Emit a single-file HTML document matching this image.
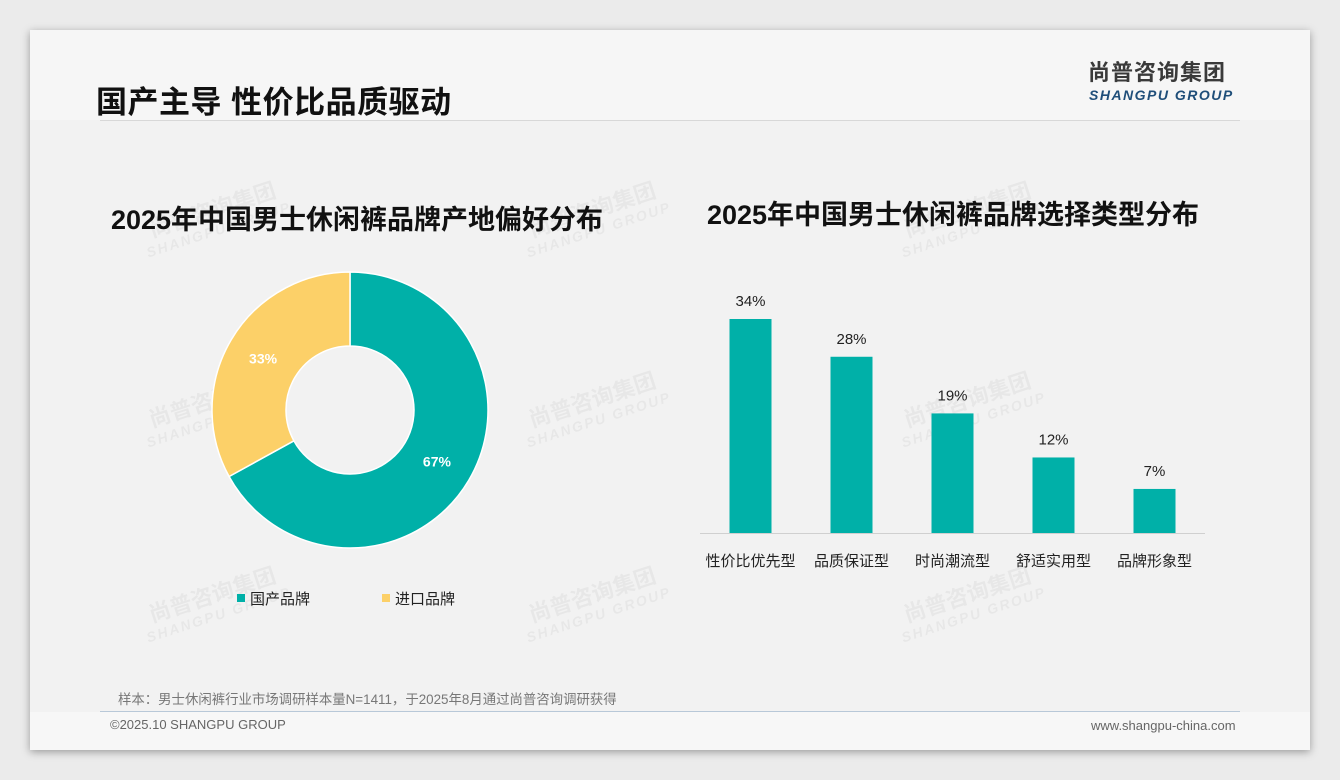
<!DOCTYPE html>
<html><head><meta charset="utf-8"><style>
body{margin:0;width:1340px;height:780px;background:#ebebeb;font-family:"Liberation Sans","Noto Sans CJK SC",sans-serif;overflow:hidden;position:relative}
.card{position:absolute;left:30px;top:30px;width:1280px;height:720px;background:#f2f2f2;box-shadow:0 2px 8px rgba(0,0,0,.35)}
.hdr{position:absolute;left:0;top:0;width:1280px;height:90px;background:#f6f6f6}
.ftr{position:absolute;left:0;top:682px;width:1280px;height:38px;background:#f7f7f7}
.t{position:absolute;white-space:nowrap}
.wm{position:absolute;color:rgba(0,0,0,.045);font-weight:bold;transform:rotate(-18deg);font-size:22px;line-height:20px;text-align:center}
.wm span{display:block;font-size:14px;font-style:italic;letter-spacing:2px}
</style></head><body>
<div class="card">
<div class="hdr"></div>
<div class="ftr"></div>
<div class="t" style="left:66px;top:47px;font-size:31px;letter-spacing:0.5px;font-weight:bold;color:#111">国产主导 性价比品质驱动</div>
<div style="position:absolute;left:70px;top:90px;width:1140px;height:1px;background:#d8d8d8"></div>
<div class="t" style="left:1058px;top:30px;font-size:22px;line-height:26px;font-weight:bold;color:#3a3a3a;letter-spacing:1px">尚普咨询集团</div>
<div class="t" style="left:1059px;top:57px;font-size:14px;font-weight:bold;font-style:italic;color:#1f4e79;letter-spacing:1.5px">SHANGPU GROUP</div>
<div class="wm" style="left:110px;top:170px">尚普咨询集团<span>SHANGPU GROUP</span></div>
<div class="wm" style="left:490px;top:170px">尚普咨询集团<span>SHANGPU GROUP</span></div>
<div class="wm" style="left:865px;top:170px">尚普咨询集团<span>SHANGPU GROUP</span></div>
<div class="wm" style="left:110px;top:360px">尚普咨询集团<span>SHANGPU GROUP</span></div>
<div class="wm" style="left:490px;top:360px">尚普咨询集团<span>SHANGPU GROUP</span></div>
<div class="wm" style="left:865px;top:360px">尚普咨询集团<span>SHANGPU GROUP</span></div>
<div class="wm" style="left:110px;top:555px">尚普咨询集团<span>SHANGPU GROUP</span></div>
<div class="wm" style="left:490px;top:555px">尚普咨询集团<span>SHANGPU GROUP</span></div>
<div class="wm" style="left:865px;top:555px">尚普咨询集团<span>SHANGPU GROUP</span></div>
<div class="t" style="left:88px;top:658px;font-size:13.4px;color:#777">样本：男士休闲裤行业市场调研样本量N=1411，于2025年8月通过尚普咨询调研获得</div>
<div style="position:absolute;left:70px;top:681px;width:1140px;height:1px;background:#b8c8d8"></div>
<div class="t" style="left:80px;top:687px;font-size:13px;color:#666">©2025.10 SHANGPU GROUP</div>
<div class="t" style="left:1061px;top:688px;font-size:13px;color:#666">www.shangpu-china.com</div>
</div>
<svg id="c" width="1340" height="780" style="position:absolute;left:0;top:0"></svg>
<script>
const pieLabels=["国产品牌","进口品牌"];
const pieValues=[67,33];
const pieColors=["#00b0a8","#fcd068"];
const barCats=["性价比优先型","品质保证型","时尚潮流型","舒适实用型","品牌形象型"];
const barValues=[34,28,19,12,7];
const svg=document.getElementById('c');const NS="http://www.w3.org/2000/svg";
function mk(t,a,txt){const e=document.createElementNS(NS,t);for(const k in a)e.setAttribute(k,a[k]);if(txt!=null)e.textContent=txt;svg.appendChild(e);return e;}
const F='"Liberation Sans","Noto Sans CJK SC",sans-serif';
let t=mk('text',{x:357,y:229,'text-anchor':'middle','font-size':27,'font-weight':'bold','font-family':F,fill:'#111'},'2025年中国男士休闲裤品牌产地偏好分布');


t=mk('text',{x:953,y:224,'text-anchor':'middle','font-size':27,'font-weight':'bold','font-family':F,fill:'#111'},'2025年中国男士休闲裤品牌选择类型分布');


const cx=350,cy=410,R=138,r=64;const tot=pieValues.reduce((a,b)=>a+b,0);let ang=0;
pieValues.forEach((v,i)=>{const a0=ang,a1=ang+v/tot*2*Math.PI;ang=a1;
const p=(a,rr)=>[cx+rr*Math.sin(a),cy-rr*Math.cos(a)];const lg=(a1-a0)>Math.PI?1:0;
const [x0,y0]=p(a0,R),[x1,y1]=p(a1,R),[x2,y2]=p(a1,r),[x3,y3]=p(a0,r);
const s=mk('path',{d:`M${x0},${y0}A${R},${R} 0 ${lg} 1 ${x1},${y1}L${x2},${y2}A${r},${r} 0 ${lg} 0 ${x3},${y3}Z`,fill:pieColors[i],stroke:'#fff','stroke-width':1.5});


const am=(a0+a1)/2,[lx,ly]=p(am,(R+r)/2);
const l=mk('text',{x:lx,y:ly+5,'text-anchor':'middle','font-size':14,'font-weight':'bold','font-family':F,fill:'#fff'},v+'%');


const lgx=237+i*145;
const sq=mk('rect',{x:lgx,y:594,width:8,height:8,fill:pieColors[i]});


const lt=mk('text',{x:lgx+13,y:604,'font-size':15,'font-family':F,fill:'#222'},pieLabels[i]);


});
const base=533,scale=214/34,x0=700,step=101,bw=42;
const ax=mk('line',{x1:x0,y1:base+0.5,x2:x0+5*step,y2:base+0.5,stroke:'#d0d0d0'});


barValues.forEach((v,i)=>{const c=x0+step*(i+0.5),h=v*scale;
const b=mk('rect',{x:c-bw/2,y:base-h,width:bw,height:h,fill:'#00b0a8'});


const vl=mk('text',{x:c,y:base-h-13,'text-anchor':'middle','font-size':15,'font-family':F,fill:'#222'},v+'%');


const cl=mk('text',{x:c,y:566,'text-anchor':'middle','font-size':15,'font-family':F,fill:'#222'},barCats[i]);


});
</script>
</body></html>
